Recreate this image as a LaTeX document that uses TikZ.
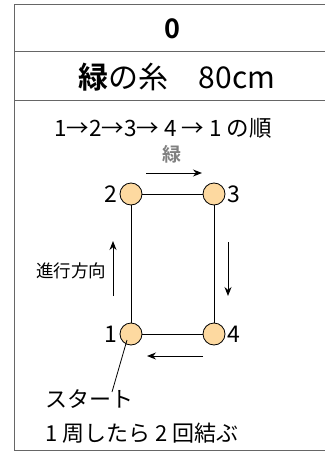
\documentclass[tikz,border=0pt]{standalone}
\usepackage{fontspec}
\setmainfont{Noto Sans CJK JP}[BoldFont={Noto Sans CJK JP Bold}]
\usetikzlibrary{arrows.meta}
\definecolor{beadfill}{RGB}{253,217,160}
\definecolor{framegray}{gray}{0.4}

\begin{document}
\begin{tikzpicture}[x=1pt,y=-1pt,
    bead/.style={circle,draw,fill=beadfill,minimum size=22pt,inner sep=0pt,line width=0.8pt},
    num/.style={font=\fontsize{23}{23}\selectfont,inner sep=2pt},
    dirarrow/.style={-{Stealth[length=9pt,width=7pt]},line width=1pt}]
    \useasboundingbox (0,0) rectangle (324,452);
    % frame, open to the right
    \draw[framegray,line width=1pt] (330,5) -- (14,5) -- (14,450) -- (330,450);
    \draw[framegray,line width=1pt] (14,52) -- (330,52) (14,100) -- (330,100);
    \node (no) at (172,29) {\fontsize{27}{27}\selectfont\bfseries 0};
    \node (thread) at (177,77) {\fontsize{30}{30}\selectfont\textbf{緑}の糸　80cm};
    \node (order) at (163,128) {\fontsize{22.5}{22.5}\selectfont 1→2→3→ 4 → 1 の順};
    \node[gray] (color) at (172,154) {\fontsize{19}{19}\selectfont\bfseries 緑};
    % beads
    \node[bead] (b1) at (131,334) {};
    \node[bead] (b2) at (131,194) {};
    \node[bead] (b3) at (214,194) {};
    \node[bead] (b4) at (214,334) {};
    \draw[line width=0.8pt] (b1) -- (b2) -- (b3) -- (b4) -- (b1);
    \node[num,left] at (b1.west) {1};
    \node[num,left] at (b2.west) {2};
    \node[num,right] at (b3.east) {3};
    \node[num,right] at (b4.east) {4};
    % direction
    \coordinate (t1) at (146,173); \coordinate (t2) at (202,173);
    \coordinate (r1) at (228,242); \coordinate (r2) at (228,296);
    \coordinate (d1) at (203,356); \coordinate (d2) at (147,356);
    \coordinate (l1) at (113,296); \coordinate (l2) at (113,241);
    \draw[dirarrow] (t1) -- (t2);
    \draw[dirarrow] (r1) -- (r2);
    \draw[dirarrow] (d1) -- (d2);
    \draw[dirarrow] (l1) -- (l2);
    \node (way) at (71,271) {\fontsize{17.5}{17.5}\selectfont 進行方向};
    % start
    \node[anchor=west,inner sep=0pt] (start) at (45,399) {\fontsize{22}{22}\selectfont スタート};
    \node[anchor=west,inner sep=0pt] (knot) at (45,433) {\fontsize{22}{22}\selectfont 1 周したら 2 回結ぶ};
    \coordinate (tip) at (127,340);
    \draw[line width=0.8pt] (tip) -- (112,392);
\end{tikzpicture}
\end{document}
